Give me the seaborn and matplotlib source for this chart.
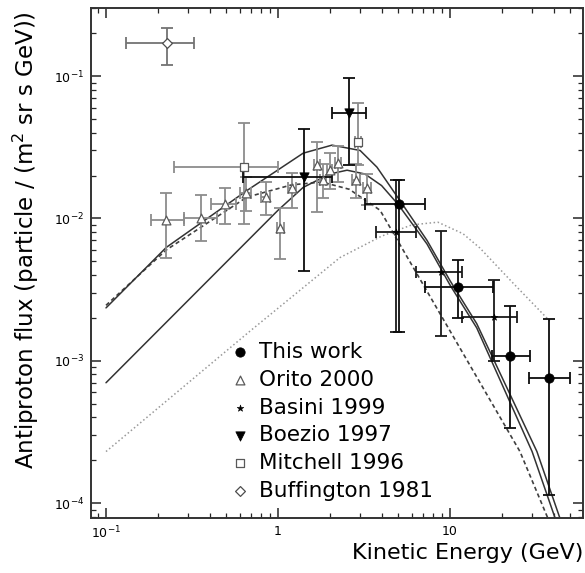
import matplotlib
matplotlib.use("Agg")
import matplotlib.pyplot as plt
import numpy as np
import seaborn as sns

# ---- data (kinetic energy in GeV, flux in 1/(m2 sr s GeV)) ----
this_E = [5.05, 11.1, 22.3, 37.7]
this_F = [0.0126, 0.00327, 0.00108, 0.00075]
this_Elo = [3.2, 7.16, 17.5, 28.8]
this_Ehi = [7.16, 17.8, 29.2, 49.8]
this_Flo = [0.0016, 0.0020, 0.000337, 0.000114]
this_Fhi = [0.0185, 0.0051, 0.00244, 0.00195]

orito_E = [0.224, 0.357, 0.49, 0.65, 0.85, 1.03, 1.21, 1.69, 1.83, 2.0, 2.23, 2.84, 3.29]
orito_F = [0.0097, 0.0100, 0.0126, 0.0150, 0.0141, 0.0085, 0.0163, 0.0236, 0.0185, 0.0218, 0.0244, 0.0185, 0.0163]
orito_Elo = [0.183, 0.284, 0.407, 0.60, 0.80, 0.98, 1.15, 1.62, 1.76, 1.93, 2.15, 2.70, 3.10]
orito_Ehi = [0.284, 0.44, 0.57, 0.70, 0.90, 1.08, 1.27, 1.76, 1.90, 2.07, 2.31, 2.98, 3.45]
orito_Flo = [0.0053, 0.0069, 0.0091, 0.0112, 0.0105, 0.0052, 0.0119, 0.0110, 0.0140, 0.0160, 0.0180, 0.0140, 0.0125]
orito_Fhi = [0.0150, 0.0145, 0.0163, 0.0195, 0.0179, 0.0119, 0.0210, 0.0343, 0.0240, 0.0290, 0.0320, 0.0240, 0.0205]

basini_E = [4.86, 8.86, 18.0]
basini_F = [0.0080, 0.00417, 0.00204]
basini_Elo = [3.72, 6.35, 11.7]
basini_Ehi = [6.35, 11.7, 24.5]
basini_Flo = [0.0016, 0.00148, 0.0010]
basini_Fhi = [0.0185, 0.0082, 0.0037]

boezio_E = [1.42, 2.59]
boezio_F = [0.0195, 0.0548]
boezio_Elo = [0.626, 2.06]
boezio_Ehi = [2.06, 3.25]
boezio_Flo = [0.0043, 0.0236]
boezio_Fhi = [0.0424, 0.097]

mitchell_E = [0.63, 2.92]
mitchell_F = [0.0229, 0.0343]
mitchell_Elo = [0.25, 2.80]
mitchell_Ehi = [1.0, 3.05]
mitchell_Flo = [0.0091, 0.0236]
mitchell_Fhi = [0.047, 0.0645]

buff_E = [0.226]
buff_F = [0.17]
buff_Elo = [0.13]
buff_Ehi = [0.325]
buff_Flo = [0.119]
buff_Fhi = [0.218]

# model curves
curveA_E = [0.1, 0.224, 0.66, 1.40, 2.06, 3.0, 3.76, 5.1, 7.35, 10.0, 14.3, 32.0, 43.5]
curveA_F = [0.00235, 0.00625, 0.0157, 0.0287, 0.0327, 0.030, 0.0229, 0.0134, 0.0070, 0.00365, 0.00182, 0.00023, 0.0000785]
curveB_E = [0.1, 1.0, 1.4, 2.0, 2.52, 3.2, 4.0, 5.0, 7.35, 10.0, 14.3, 30.0, 40.8]
curveB_F = [0.0007, 0.0114, 0.0165, 0.0205, 0.0218, 0.0205, 0.0170, 0.0125, 0.0066, 0.0034, 0.0017, 0.00023, 0.0000785]
curveC_E = [0.1, 0.224, 0.66, 1.2, 1.8, 2.6, 3.92, 25.5, 37.0]
curveC_F = [0.00245, 0.0060, 0.0141, 0.0172, 0.0180, 0.0160, 0.0114, 0.00023, 0.0000785]
curveD_E = [0.1, 0.69, 2.29, 4.0, 6.0, 8.5, 11.9, 14.9, 23.3, 38.0]
curveD_F = [0.00023, 0.00162, 0.0053, 0.0075, 0.0090, 0.0094, 0.0078, 0.0062, 0.0035, 0.0019]

xtick_vals = [0.1, 1, 10]
xtick_labels = ["$10^{-1}$", "1", "10"]
ytick_vals = [1e-4, 1e-3, 1e-2, 1e-1]
ytick_labels = ["$10^{-4}$", "$10^{-3}$", "$10^{-2}$", "$10^{-1}$"]

sns.set_style("ticks")
plt.rcParams['font.family'] = ['DejaVu Sans']
plt.rcParams['text.color'] = 'black'
plt.rcParams['axes.labelcolor'] = 'black'

fig = plt.figure(figsize=(5.85, 5.73), dpi=100)
ax = fig.add_axes([91 / 585, 1 - 518 / 573, 492 / 585, 510 / 573])
ax.set_xscale("log")
ax.set_yscale("log")


def errbars(E, F, Elo, Ehi, Flo, Fhi, color):
    E = np.array(E); F = np.array(F)
    ax.errorbar(E, F, xerr=[E - np.array(Elo), np.array(Ehi) - E],
                yerr=[F - np.array(Flo), np.array(Fhi) - F],
                fmt='none', ecolor=color, elinewidth=1.3, capsize=4, capthick=1.3, zorder=3)


# curves
sns.lineplot(x=curveD_E, y=curveD_F, ax=ax, color='0.6', linestyle=':', linewidth=1.1, sort=False, estimator=None)
sns.lineplot(x=curveC_E, y=curveC_F, ax=ax, color='0.25', linestyle=(0, (2.5, 1.8)), linewidth=1.2, sort=False, estimator=None)
sns.lineplot(x=curveB_E, y=curveB_F, ax=ax, color='0.2', linestyle='-', linewidth=1.1, sort=False, estimator=None)
sns.lineplot(x=curveA_E, y=curveA_F, ax=ax, color='0.2', linestyle='-', linewidth=1.1, sort=False, estimator=None)

# error bars
errbars(orito_E, orito_F, orito_Elo, orito_Ehi, orito_Flo, orito_Fhi, '0.55')
errbars(mitchell_E, mitchell_F, mitchell_Elo, mitchell_Ehi, mitchell_Flo, mitchell_Fhi, '0.55')
errbars(buff_E, buff_F, buff_Elo, buff_Ehi, buff_Flo, buff_Fhi, '0.45')
errbars(boezio_E, boezio_F, boezio_Elo, boezio_Ehi, boezio_Flo, boezio_Fhi, '0.05')
errbars(basini_E, basini_F, basini_Elo, basini_Ehi, basini_Flo, basini_Fhi, '0.1')
errbars(this_E, this_F, this_Elo, this_Ehi, this_Flo, this_Fhi, '0.05')

# markers
sns.scatterplot(x=this_E, y=this_F, ax=ax, marker='o', s=45, color='black', edgecolor='black', label='This work', zorder=6)
sns.scatterplot(x=orito_E, y=orito_F, ax=ax, marker='^', s=40, color='white', edgecolor='0.35', linewidth=0.9, label='Orito 2000', zorder=5)
sns.scatterplot(x=basini_E, y=basini_F, ax=ax, marker='*', s=25, color='black', edgecolor='black', label='Basini 1999', zorder=6)
sns.scatterplot(x=boezio_E, y=boezio_F, ax=ax, marker='v', s=45, color='black', edgecolor='black', label='Boezio 1997', zorder=6)
sns.scatterplot(x=mitchell_E, y=mitchell_F, ax=ax, marker='s', s=40, color='white', edgecolor='0.35', linewidth=0.9, label='Mitchell 1996', zorder=5)
sns.scatterplot(x=buff_E, y=buff_F, ax=ax, marker='D', s=25, color='white', edgecolor='0.3', linewidth=0.9, label='Buffington 1981', zorder=5)

ax.set_xlim(0.0818, 59.3)
ax.set_ylim(7.85e-5, 0.3006)

ax.set_xticks(xtick_vals, labels=xtick_labels)
ax.set_yticks(ytick_vals, labels=ytick_labels)
ax.tick_params(which='both', direction='in', top=True, right=True, colors='0.15', labelcolor='black')
ax.tick_params(which='major', length=7, width=1.1, labelsize=9, pad=5)
ax.tick_params(which='minor', length=3.5, width=0.9)
for sp in ax.spines.values():
    sp.set_linewidth(1.4)
    sp.set_color('0.2')

ax.set_xlabel("Kinetic Energy (GeV)", fontsize=16, ha='right', va='center')
ax.xaxis.set_label_coords(1.0, -(553 - 518) / 510)
ax.set_ylabel("Antiproton flux (particle / (m$^2$ sr s GeV))", fontsize=16.5, va='center')
ax.yaxis.set_label_coords((26 - 91) / 492, (518 - 240) / 510)

leg = ax.legend(loc='upper left', bbox_to_anchor=(231 / 585, 1 - 342 / 573), bbox_transform=fig.transFigure,
                frameon=False, fontsize=15.5, handlelength=0.8, handletextpad=0.5, labelspacing=0.36,
                borderpad=0, borderaxespad=0, scatterpoints=1)

fig.savefig("out.png", dpi=100)
